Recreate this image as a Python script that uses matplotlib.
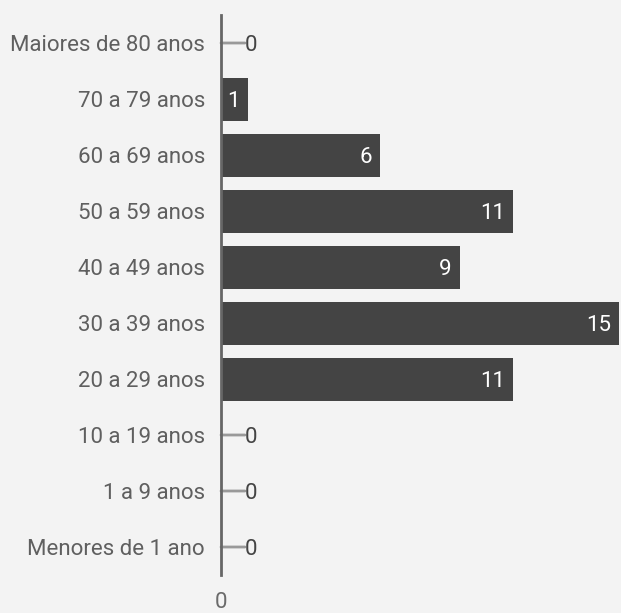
import matplotlib
matplotlib.use("Agg")
import matplotlib.pyplot as plt
from matplotlib.transforms import offset_copy

categories = ["Maiores de 80 anos", "70 a 79 anos", "60 a 69 anos", "50 a 59 anos",
              "40 a 49 anos", "30 a 39 anos", "20 a 29 anos", "10 a 19 anos",
              "1 a 9 anos", "Menores de 1 ano"]
values = [0, 1, 6, 11, 9, 15, 11, 0, 0, 0]
xticks = [0]

plt.rcParams['font.family'] = ['Roboto', 'DejaVu Sans']
bg = "#f3f3f3"
W, H = 621, 613
fig = plt.figure(figsize=(W/100, H/100), dpi=100, facecolor=bg)
ax = fig.add_axes([221/W, (H-575)/H, (621-221)/W, (575-15)/H], facecolor=bg)

n = len(categories)
ypos = list(range(n))
ax.barh(ypos, values, height=43/56, color="#444444", left=0)
ax.set_ylim(n - 0.5, -0.5)
ax.set_xlim(0, 15 * 400/398)

for y, v in zip(ypos, values):
    if v > 0:
        t = offset_copy(ax.transData, fig=fig, x=-8, y=-8, units='dots')
        ax.text(v, y, str(v), transform=t, ha='right', va='baseline',
                color='white', fontsize=16)
    else:
        ax.annotate("", xy=(0, y), xytext=(24, 0), textcoords='offset pixels',
                    arrowprops=dict(arrowstyle='-', color='#999999', lw=2,
                                    shrinkA=0, shrinkB=0))
        ax.annotate(str(v), xy=(0, y), xytext=(24, -8), textcoords='offset pixels',
                    ha='left', va='baseline', color='#444444', fontsize=16)

ax.set_yticks(ypos)
ax.set_yticklabels(categories, fontsize=16, color='#5f5f5f')
ax.tick_params(axis='y', length=0, pad=11.5)
ax.set_xticks(xticks)
ax.set_xticklabels([str(x) for x in xticks], fontsize=16, color='#6a6a6a')
ax.tick_params(axis='x', length=0, pad=12)
for s in ['top', 'right', 'bottom']:
    ax.spines[s].set_visible(False)
ax.spines['left'].set_color('#666666')
ax.spines['left'].set_linewidth(2)
ax.spines['left'].set_zorder(5)

fig.savefig("out.png", dpi=100, facecolor=bg)
